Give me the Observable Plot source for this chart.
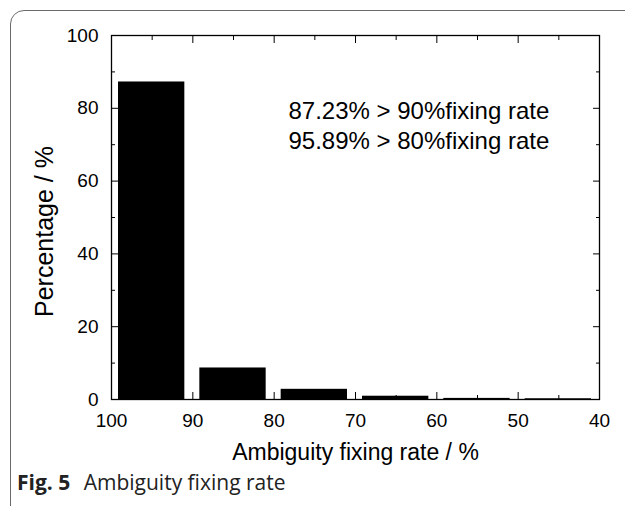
<!DOCTYPE html>
<html>
<head>
<meta charset="utf-8">
<script src="https://cdn.jsdelivr.net/npm/d3@7"></script>
<script src="https://cdn.jsdelivr.net/npm/@observablehq/plot@0.6"></script>
<style>
  html, body { margin: 0; padding: 0; background: #fff; }
  #wrap { position: relative; width: 625px; height: 506px; overflow: hidden; }
  #box { position: absolute; left: 10px; top: 10px; width: 640px; height: 510px;
         border: 1.5px solid #6a6a6a; border-radius: 14px; box-sizing: border-box; }
  #chart { position: absolute; left: 0; top: 0; }
  #cap { position: absolute; left: 17px; top: 468px; font-family: "Open Sans", "Noto Sans", sans-serif;
         font-size: 21px; color: #222; white-space: nowrap; }
  #cap b { font-weight: 700; margin-right: 8px; }
</style>
</head>
<body>
<div id="wrap">
  <div id="box"></div>
  <div id="chart"></div>
  <div id="cap"><b>Fig. 5</b> Ambiguity fixing rate</div>
</div>
<script>
// ---- data ----
const binStart = [100, 90, 80, 70, 60, 50];
const binEnd = [90, 80, 70, 60, 50, 40];
const percentage = [87.23, 8.66, 2.8, 0.9, 0.3, 0.2];
const xTickLabels = [100, 90, 80, 70, 60, 50, 40];
const xMinorTicks = [95, 85, 75, 65, 55, 45];
const yTickLabels = [0, 20, 40, 60, 80, 100];
const yMinorTicks = [10, 30, 50, 70, 90];
const annotations = ["87.23% > 90%fixing rate", "95.89% > 80%fixing rate"];
const xLabel = "Ambiguity fixing rate / %";
const yLabel = "Percentage / %";

const bars = binStart.map((s, i) => ({start: s, end: binEnd[i], pct: percentage[i]}));

const chart = Plot.plot({
  width: 625,
  height: 506,
  marginLeft: 111,
  marginRight: 26,
  marginTop: 35,
  marginBottom: 107,
  style: {fontFamily: "'Liberation Sans', Arial, sans-serif", color: "#000", background: "transparent"},
  x: {domain: [100, 40]},
  y: {domain: [0, 100]},
  marks: [
    Plot.rectY(bars, {x1: "start", x2: "end", y: "pct", fill: "#000", insetLeft: 7, insetRight: 8}),
    // tick labels
    Plot.axisX(xTickLabels, {anchor: "bottom", tickSize: 0, tickPadding: 14, fontSize: 19, label: null}),
    Plot.axisY(yTickLabels, {anchor: "left", tickSize: 0, tickPadding: 13, fontSize: 19, label: null}),
    // inward tick marks
    Plot.axisX(xTickLabels, {anchor: "bottom", tickSize: -7, fill: "none", label: null}),
    Plot.axisX(xMinorTicks, {anchor: "bottom", tickSize: -4, fill: "none", label: null}),
    Plot.axisX(xTickLabels, {anchor: "top", tickSize: -7, fill: "none", label: null}),
    Plot.axisX(xMinorTicks, {anchor: "top", tickSize: -4, fill: "none", label: null}),
    Plot.axisY(yTickLabels, {anchor: "left", tickSize: -7, fill: "none", label: null}),
    Plot.axisY(yMinorTicks, {anchor: "left", tickSize: -4, fill: "none", label: null}),
    Plot.axisY(yTickLabels, {anchor: "right", tickSize: -7, fill: "none", label: null}),
    Plot.axisY(yMinorTicks, {anchor: "right", tickSize: -4, fill: "none", label: null}),
    Plot.frame({stroke: "#000", strokeWidth: 1.3}),
    // axis titles
    Plot.text([yLabel], {frameAnchor: "left", textAnchor: "middle", dx: -67, dy: 14, rotate: -90, fontSize: 25}),
    Plot.text([xLabel], {frameAnchor: "bottom", textAnchor: "middle", dx: 0, dy: 60, fontSize: 23}),
    // annotation
    Plot.text([annotations.join("\n")], {frameAnchor: "top-left", textAnchor: "start", lineAnchor: "middle",
      dx: 177, dy: 89, lineHeight: 1.25, fontSize: 24})
  ]
});
document.getElementById("chart").appendChild(chart);
</script>
</body>
</html>
